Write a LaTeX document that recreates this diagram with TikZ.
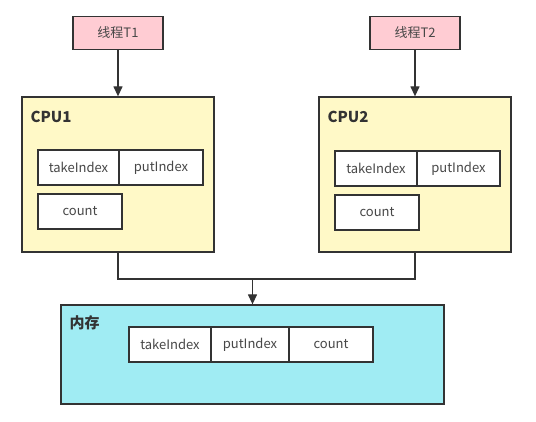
\documentclass[tikz,border=0pt]{standalone}
\usepackage{fontspec}
\setmainfont{Noto Sans CJK SC}
\usepackage{tikz}
\usetikzlibrary{positioning,arrows.meta}
\usepackage{xcolor}
\definecolor{threadpink}{RGB}{255,204,211}
\definecolor{cpuyellow}{RGB}{255,249,199}
\definecolor{memcyan}{RGB}{160,236,243}
\definecolor{edgegray}{RGB}{51,51,51}

\begin{document}
\begin{tikzpicture}[
    x=1pt, y=-1pt,
    line width=1.3pt,
    thread/.style={rectangle, draw=edgegray, fill=threadpink,
        minimum width=90pt, minimum height=33pt, inner sep=0pt,
        font=\fontsize{13}{15}\selectfont, text=edgegray!90},
    cpu/.style={rectangle, draw=edgegray, fill=cpuyellow,
        minimum width=192pt, minimum height=155pt, inner sep=0pt},
    memory/.style={rectangle, draw=edgegray, fill=memcyan,
        minimum width=383pt, minimum height=99pt, inner sep=0pt},
    field/.style={rectangle, draw=edgegray, fill=white, outer sep=0pt,
        minimum height=35pt, inner sep=0pt,
        font=\fontsize{13}{15}\selectfont, text=edgegray!90},
    title/.style={anchor=west, inner sep=0pt, text=edgegray,
        font=\fontsize{15}{17}\selectfont\bfseries},
    arrow/.style={-{Triangle[length=10pt,width=9pt]}, edgegray}
]
    \useasboundingbox (0,0) rectangle (536,422);

    % threads
    \node[thread] (t1) at (118,33) {线程T1};
    \node[thread] (t2) at (415,33) {线程T2};

    % cpus with their caches
    \node[cpu] (cpu1) at (118,174.5) {};
    \node[title] (cpu1title) at (30,117) {CPU1};
    \node[field, minimum width=81pt, anchor=north west] (take1) at (38,150) {takeIndex};
    \node[field, minimum width=84pt, right=0pt of take1] (put1) {putIndex};
    \node[field, minimum width=84pt, below=9pt of take1.south west, anchor=north west] (count1) {count};

    \node[cpu] (cpu2) at (415,174.5) {};
    \node[title] (cpu2title) at (327,117) {CPU2};
    \node[field, minimum width=82pt, anchor=north west] (take2) at (335,151) {takeIndex};
    \node[field, minimum width=83pt, right=0pt of take2] (put2) {putIndex};
    \node[field, minimum width=84pt, below=9pt of take2.south west, anchor=north west] (count2) {count};

    % main memory
    \node[memory] (mem) at (252.5,354.5) {};
    \node[title] (memtitle) at (69,323) {内存};
    \node[field, minimum width=82pt, anchor=north west] (takem) at (129,327) {takeIndex};
    \node[field, minimum width=78pt, right=0pt of takem] (putm) {putIndex};
    \node[field, minimum width=84pt, right=0pt of putm] (countm) {count};

    % connectors
    \coordinate (merge) at (252.5,279);
    \draw[arrow] (t1) -- (cpu1);
    \draw[arrow] (t2) -- (cpu2);
    \draw[edgegray] (cpu1.south) |- (merge) -| (cpu2.south);
    \draw[arrow] (merge) -- (mem.north);
\end{tikzpicture}
\end{document}
